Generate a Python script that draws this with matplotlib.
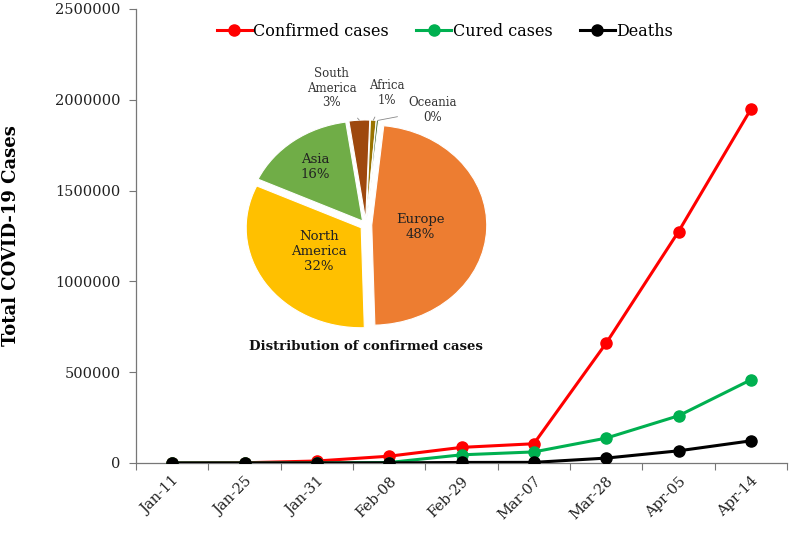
import numpy as np
import matplotlib
matplotlib.use("Agg")
import matplotlib.pyplot as plt

dates = ["Jan-11", "Jan-25", "Jan-31", "Feb-08", "Feb-29", "Mar-07", "Mar-28", "Apr-05", "Apr-14"]
confirmed = [41, 1300, 11000, 37500, 86000, 106000, 660000, 1274000, 1948000]
cured = [0, 40, 250, 2700, 45000, 61000, 137000, 260000, 458000]
deaths = [1, 40, 210, 800, 3000, 3500, 27000, 67000, 122000]

regions = ["Europe", "North\nAmerica", "Asia", "South\nAmerica", "Africa", "Oceania"]
shares = [47.9, 32.3, 15.8, 2.9, 0.8, 0.3]
pie_colors = ["#ED7D31", "#FFC000", "#70AD47", "#9E480E", "#997300", "#43682B"]

plt.rcParams['font.family'] = ['DejaVu Serif']

W, H = 790, 534
fig = plt.figure(figsize=(W / 100, H / 100), dpi=100)
ax = fig.add_axes([136 / W, 1 - 463 / H, (787 - 136) / W, (463 - 9) / H])

x = np.arange(len(dates))
ax.plot(x, confirmed, color="#FF0000", lw=2.2, marker="o", ms=8, label="Confirmed cases", zorder=3)
ax.plot(x, cured, color="#00B050", lw=2.2, marker="o", ms=8, label="Cured cases", zorder=4)
ax.plot(x, deaths, color="#000000", lw=2.2, marker="o", ms=8, label="Deaths", zorder=5)

ax.set_xlim(-0.5, len(dates) - 0.5)
ax.set_ylim(0, 2500000)
ax.set_yticks(np.arange(0, 2500001, 500000))
ax.set_yticklabels([str(v) for v in range(0, 2500001, 500000)], fontsize=10.5, color="#222222")
ax.set_xticks(np.arange(-0.5, len(dates), 1.0))
ax.set_xticklabels([])
ax.set_xticks(x, minor=True)
ax.set_xticklabels(dates, minor=True, rotation=45, ha="right", rotation_mode="anchor", fontsize=10.5, color="#222222")
ax.tick_params(axis="x", which="minor", length=0, pad=8)
ax.tick_params(axis="x", which="major", length=5, direction="out", color="#777777")
ax.tick_params(axis="y", length=5, direction="out", color="#777777", pad=6)
for s in ["top", "right"]:
    ax.spines[s].set_visible(False)
for s in ["left", "bottom"]:
    ax.spines[s].set_color("#777777")
    ax.spines[s].set_linewidth(0.9)
ax.set_ylabel("Total COVID-19 Cases", fontsize=13, fontweight="bold")
ax.yaxis.set_label_coords(-0.178, 0.5)

fig.legend(loc="center", bbox_to_anchor=(445 / W, 1 - 31 / H), ncol=3, frameon=False,
           fontsize=11.5, handlelength=2.2, handletextpad=0.1, columnspacing=1.7)

# Pie inset
rx, ry = 115, 100
cx, cy = 366, 225
span = 1.3
pax = fig.add_axes([(cx - span * rx) / W, 1 - (cy + span * ry) / H, 2 * span * rx / W, 2 * span * ry / H])
explode = [0.05, 0.05, 0.05, 0.05, 0.05, 0.05]
wedges, _ = pax.pie(shares, colors=pie_colors, explode=explode, startangle=84, counterclock=False,
                    wedgeprops=dict(edgecolor="white", linewidth=0.8))
pax.set_aspect("auto")
pax.set_xlim(-span, span)
pax.set_ylim(-span, span)
pax.axis("off")

inside_r = [0.42, 0.44, 0.68]
for i in range(3):
    w = wedges[i]
    ang = np.deg2rad((w.theta1 + w.theta2) / 2)
    r = inside_r[i] + explode[i]
    pax.text(r * np.cos(ang), r * np.sin(ang), f"{regions[i]}\n{shares[i]:.0f}%",
             ha="center", va="center", fontsize=9.5, color="#222222", linespacing=1.2)

outside_pos = [(-0.30, 1.37), (0.18, 1.32), (0.58, 1.15)]
for i in range(3, 6):
    w = wedges[i]
    ang = np.deg2rad((w.theta1 + w.theta2) / 2)
    r = 1.0 + explode[i]
    tx, ty = outside_pos[i - 3]
    pax.annotate(f"{regions[i]}\n{shares[i]:.0f}%", xy=(r * np.cos(ang), r * np.sin(ang)),
                 xytext=(tx, ty), ha="center", va="center", fontsize=8.5, color="#333333",
                 linespacing=1.15, annotation_clip=False,
                 arrowprops=dict(arrowstyle="-", color="#888888", lw=0.6, shrinkA=6, shrinkB=0))

pax.text(0, -1.22, "Distribution of confirmed cases", ha="center", va="center",
         fontsize=9.5, fontweight="bold", color="#111111")

fig.savefig("out.png", dpi=100)
